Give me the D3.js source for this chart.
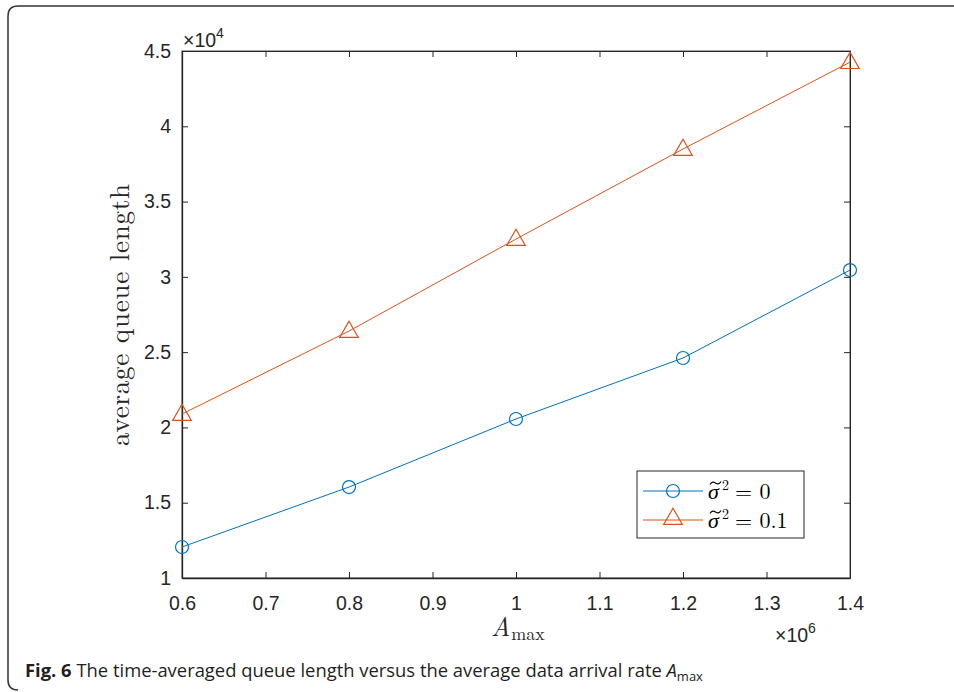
<!DOCTYPE html>
<html><head><meta charset="utf-8">
<script src="https://cdn.jsdelivr.net/npm/d3@7"></script>
<style>body{margin:0;background:#fff}svg{display:block}</style>
</head><body><svg id="c" width="954" height="692"></svg>
<script>
const xValues = [0.6, 0.8, 1.0, 1.2, 1.4];           // ×10^6
const series0 = [1.206, 1.604, 2.056, 2.461, 3.045];   // ×10^4, σ²=0
const series1 = [2.089, 2.640, 3.251, 3.849, 4.426];   // ×10^4, σ²=0.1
const xTicks = [0.6, 0.7, 0.8, 0.9, 1.0, 1.1, 1.2, 1.3, 1.4];
const yTicks = [1, 1.5, 2, 2.5, 3, 3.5, 4, 4.5];
const seriesValues = ["0", "0.1"];

const svg = d3.select("#c");
const L = 182, R = 850, T = 51, B = 578;
const x = d3.scaleLinear().domain([0.6, 1.4]).range([L, R]);
const y = d3.scaleLinear().domain([1, 4.5]).range([B, T]);
const blue = "#0072BD", orange = "#D95319";

// outer frame
svg.append("path").attr("d", "M960,6 L18,6 Q8,6 8,16 L8,680 Q8,690 18,690")
  .attr("fill", "none").attr("stroke", "#333").attr("stroke-width", 1.5);

const tickFont = "'Liberation Sans', Arial, sans-serif";
const axColor = "#262626";
// box
svg.append("rect").attr("x", L).attr("y", T).attr("width", R - L).attr("height", B - T)
  .attr("fill", "none").attr("stroke", "#6a6a6a").attr("stroke-width", 1.2);

const fmt = d => String(+d.toFixed(1));
const xAxis = d3.axisBottom(x).tickValues(xTicks).tickSizeInner(-6).tickSizeOuter(0).tickPadding(18).tickFormat(fmt);
const gx = svg.append("g").attr("transform", `translate(0,${B})`).call(xAxis);
const xTop = d3.axisTop(x).tickValues(xTicks).tickSizeInner(-6).tickSizeOuter(0).tickFormat("");
const gxt = svg.append("g").attr("transform", `translate(0,${T})`).call(xTop);
const yAxis = d3.axisLeft(y).tickValues(yTicks).tickSizeInner(-6).tickSizeOuter(0).tickPadding(11).tickFormat(fmt);
const gy = svg.append("g").attr("transform", `translate(${L},0)`).call(yAxis);
const yRight = d3.axisRight(y).tickValues(yTicks).tickSizeInner(-6).tickSizeOuter(0).tickFormat("");
const gyr = svg.append("g").attr("transform", `translate(${R},0)`).call(yRight);
[gx, gxt, gy, gyr].forEach(g => {
  g.select(".domain").attr("stroke", axColor).attr("stroke-width", 1);
  g.selectAll(".tick line").attr("stroke", axColor).attr("stroke-width", 1);
  g.selectAll("text").attr("font-family", tickFont).attr("font-size", 19.5).attr("fill", "#262626");
});
gx.select(".domain").attr("stroke-width", 1.3);
gy.select(".domain").attr("stroke-width", 1.3);

// exponent labels
const e4 = svg.append("text").attr("x", 183).attr("y", 47).attr("font-family", tickFont)
  .attr("font-size", 19.5).attr("fill", "#262626");
e4.append("tspan").text("×10");
e4.append("tspan").attr("dy", -9).attr("font-size", 14).text("4");
const e6 = svg.append("text").attr("x", 775).attr("y", 642).attr("font-family", tickFont)
  .attr("font-size", 19.5).attr("fill", "#262626");
e6.append("tspan").text("×10");
e6.append("tspan").attr("dy", -9).attr("font-size", 14).text("6");

// axis labels
const serif = "'Latin Modern Roman','Liberation Serif','Times New Roman',serif";
svg.append("text").attr("transform", "translate(129,315) rotate(-90)").attr("text-anchor", "middle")
  .attr("font-family", serif).attr("font-size", 27).attr("fill", "#262626")
  .attr("textLength", 262).attr("lengthAdjust", "spacing").text("average queue length");
const xl = svg.append("text").attr("x", 491).attr("y", 636).attr("font-family", serif)
  .attr("font-size", 26).attr("fill", "#262626");
xl.append("tspan").attr("font-style", "italic").text("A");
xl.append("tspan").attr("font-size", 18).attr("dy", 4).attr("dx", 1).text("max");

// lines
const line = d3.line().x((d, i) => x(xValues[i])).y(d => y(d));
svg.append("path").datum(series0).attr("d", line).attr("fill", "none").attr("stroke", blue).attr("stroke-width", 1);
svg.append("path").datum(series1).attr("d", line).attr("fill", "none").attr("stroke", orange).attr("stroke-width", 1);
svg.selectAll(".m0").data(series0).enter().append("circle")
  .attr("cx", (d, i) => x(xValues[i])).attr("cy", d => y(d)).attr("r", 6.5)
  .attr("fill", "none").attr("stroke", blue).attr("stroke-width", 1.2);
const tri = d3.symbol().type(d3.symbolTriangle).size(150);
svg.selectAll(".m1").data(series1).enter().append("path")
  .attr("d", tri).attr("transform", (d, i) => `translate(${x(xValues[i])},${y(d) + 1})`)
  .attr("fill", "none").attr("stroke", orange).attr("stroke-width", 1.2);

// legend
svg.append("rect").attr("x", 637).attr("y", 471).attr("width", 167).attr("height", 67)
  .attr("fill", "#fff").attr("stroke", "#262626").attr("stroke-width", 1);
const legY = [491, 520];
[blue, orange].forEach((c, i) => {
  svg.append("line").attr("x1", 643).attr("x2", 703).attr("y1", legY[i]).attr("y2", legY[i])
    .attr("stroke", c).attr("stroke-width", 1);
  if (i === 0) svg.append("circle").attr("cx", 673).attr("cy", legY[i]).attr("r", 6.5)
    .attr("fill", "none").attr("stroke", c).attr("stroke-width", 1.2);
  else svg.append("path").attr("d", tri).attr("transform", `translate(673,${legY[i] - 1})`)
    .attr("fill", "none").attr("stroke", c).attr("stroke-width", 1.2);
  const by = legY[i] + 8;
  svg.append("text").attr("x", 708).attr("y", by).attr("font-family", serif).attr("font-style", "italic")
    .attr("font-size", 22).attr("fill", "#000").text("σ");
  // tilde accent
  const tx = 710, ty = by - 16;
  svg.append("path").attr("d", `M${tx},${ty + 1.5} C${tx + 2},${ty - 2} ${tx + 4},${ty - 1} ${tx + 5.5},${ty} S${tx + 9},${ty + 2} ${tx + 11},${ty - 1.5}`)
    .attr("fill", "none").attr("stroke", "#000").attr("stroke-width", 1.2);
  svg.append("text").attr("x", 722).attr("y", by - 9).attr("font-family", serif)
    .attr("font-size", 14).attr("fill", "#000").text("2");
  svg.append("text").attr("x", 735).attr("y", by).attr("font-family", serif)
    .attr("font-size", 22).attr("fill", "#000").text("= " + seriesValues[i]);
});

// caption
const cap = svg.append("text").attr("x", 25).attr("y", 677)
  .attr("font-family", "'Open Sans','Noto Sans',sans-serif").attr("font-size", 18.4).attr("fill", "#231f20");
cap.append("tspan").attr("font-weight", "bold").text("Fig. 6");
cap.append("tspan").text("  The time-averaged queue length versus the average data arrival rate ");
cap.append("tspan").attr("font-style", "italic").text("A");
cap.append("tspan").attr("font-size", 13).attr("dy", 4).text("max");
</script></body></html>
